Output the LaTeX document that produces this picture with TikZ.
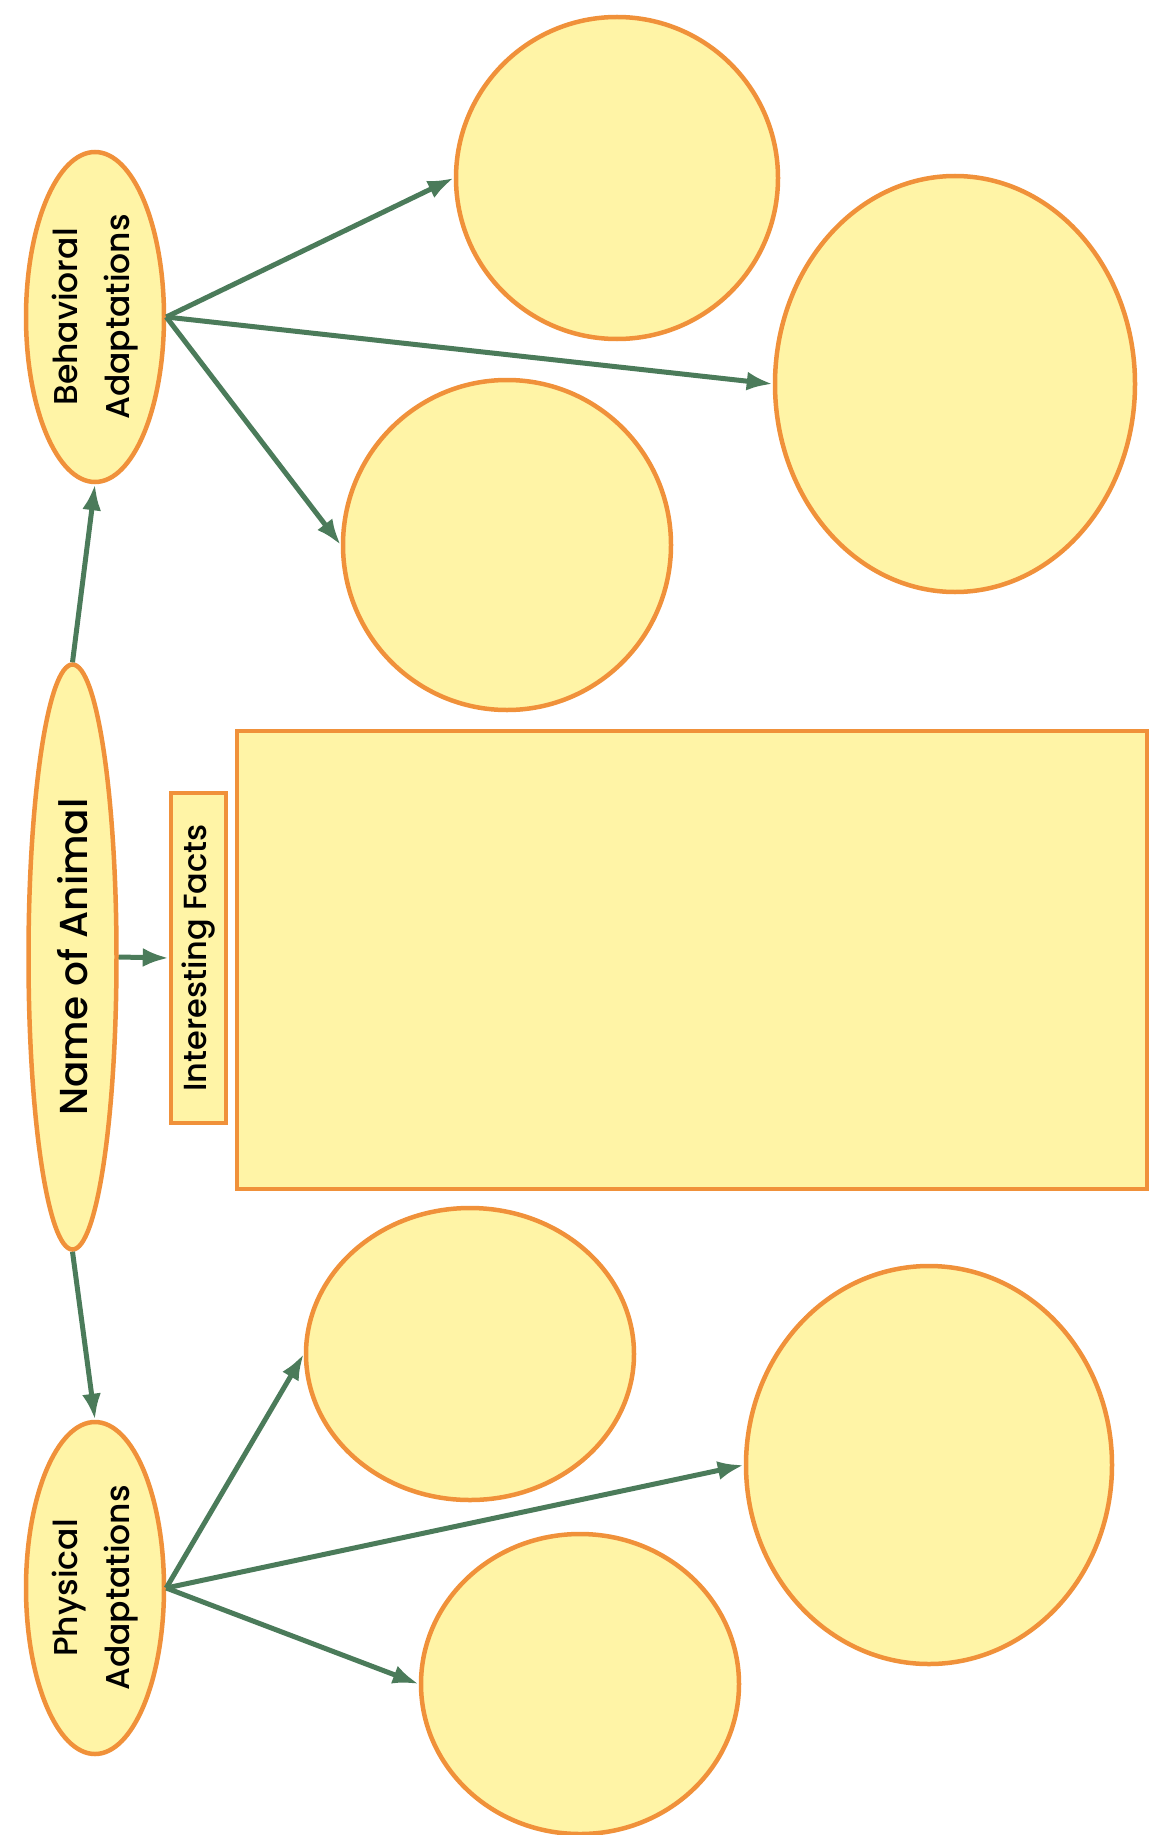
\documentclass[tikz,border=0pt]{standalone}
\usepackage{fontspec}
\setmainfont{Poppins}[UprightFont=* Medium]
\usetikzlibrary{shapes.geometric,arrows.meta}
\definecolor{edgeorange}{HTML}{F0913A}
\definecolor{paleyellow}{HTML}{FFF4A6}
\definecolor{arrowgreen}{HTML}{4B7B5A}
\begin{document}
\begin{tikzpicture}[x=1pt,y=-1pt,
  bubble/.style={ellipse,draw=edgeorange,fill=paleyellow,line width=4.5pt,inner sep=0pt},
  factbox/.style={rectangle,draw=edgeorange,fill=paleyellow,line width=4.5pt,inner sep=0pt},
  upright/.style={rotate=90,align=center,inner sep=0pt},
  link/.style={draw=arrowgreen,line width=5pt,-{Latex[length=26pt,width=19pt]}}]
\useasboundingbox (0,0) rectangle (1149,1835);

\node[bubble,minimum width=88pt,minimum height=585pt] (animal) at (72.5,957) {};
\node[bubble,minimum width=138pt,minimum height=330pt] (behav) at (95,317) {};
\node[bubble,minimum width=138pt,minimum height=332pt] (phys) at (95,1588) {};
\node[factbox,minimum width=55pt,minimum height=330pt] (facts) at (198.5,958) {};
\node[factbox,minimum width=910pt,minimum height=458pt] (notes) at (692,960) {};

\node[upright,font=\fontsize{39}{44}\selectfont] (animaltxt) at (animal) {Name of Animal};
\node[upright,font=\fontsize{33}{52}\selectfont] (behavtxt) at (behav) {Behavioral\\Adaptations};
\node[upright,font=\fontsize{33}{52}\selectfont] (phystxt) at (phys) {Physical\\Adaptations};
\node[upright,font=\fontsize{32}{36}\selectfont] (factstxt) at (facts) {Interesting Facts};

\node[bubble,minimum width=322pt,minimum height=322pt] (b1) at (617,178) {};
\node[bubble,minimum width=360pt,minimum height=416pt] (b2) at (955,384) {};
\node[bubble,minimum width=328pt,minimum height=330pt] (b3) at (507,545) {};
\node[bubble,minimum width=328pt,minimum height=292pt] (p1) at (470,1354) {};
\node[bubble,minimum width=366pt,minimum height=398pt] (p2) at (929,1465) {};
\node[bubble,minimum width=318pt,minimum height=300pt] (p3) at (580,1684) {};

\draw[link] (animal.north) -- (behav.south);
\draw[link] (animal.south) -- (phys.north);
\draw[link] (animal.east) -- (facts.west);
\draw[link] (behav.east) -- (b1.west);
\draw[link] (behav.east) -- (b2.west);
\draw[link] (behav.east) -- (b3.west);
\draw[link] (phys.east) -- (p1.west);
\draw[link] (phys.east) -- (p2.west);
\draw[link] (phys.east) -- (p3.west);
\end{tikzpicture}
\end{document}
